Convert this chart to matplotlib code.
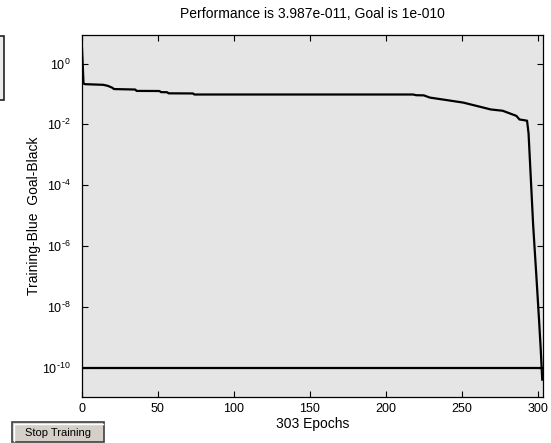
import matplotlib
matplotlib.use("Agg")
import matplotlib.pyplot as plt
from matplotlib.patches import Rectangle
from matplotlib.lines import Line2D
from matplotlib.ticker import NullLocator, FixedLocator

plt.rcParams['font.family'] = ['Liberation Sans', 'DejaVu Sans']
plt.rcParams['mathtext.default'] = 'regular'

# ---- data ----
epochs = [0, 1, 2, 14, 17, 20, 21, 35, 36, 51, 52, 56, 57, 73, 74, 218, 220, 225,
          229, 240, 251, 262, 269, 277, 286, 288, 293, 294, 295, 296, 297, 298,
          299, 300, 301, 302, 303]
performance = [3.2, 0.22, 0.21, 0.20, 0.185, 0.16, 0.145, 0.14, 0.126, 0.125, 0.115,
               0.114, 0.105, 0.104, 0.096, 0.096, 0.091, 0.09, 0.076, 0.063, 0.052,
               0.038, 0.031, 0.028, 0.019, 0.0145, 0.0132, 0.005, 5e-4, 5e-5, 5e-6,
               8e-7, 1.3e-7, 2e-8, 3e-9, 4e-10, 3.987e-11]
goal = 1e-10
total_epochs = 303
x_ticks = [0, 50, 100, 150, 200, 250, 300]
y_ticks = [1e0, 1e-2, 1e-4, 1e-6, 1e-8, 1e-10]
y_tick_labels = [r'$10^{0}$', r'$10^{\text{-}2}$', r'$10^{\text{-}4}$', r'$10^{\text{-}6}$',
                 r'$10^{\text{-}8}$', r'$10^{\text{-}10}$']
title = 'Performance is 3.987e-011, Goal is 1e-010'
xlabel = '303 Epochs'
ylabel = 'Training-Blue  Goal-Black'
button_text = 'Stop Training'

W, H = 551, 443
fig = plt.figure(figsize=(W / 100, H / 100), dpi=100)
ax = fig.add_axes([82 / W, 1 - 397 / H, 461 / W, 362 / H])
ax.set_facecolor('#e5e5e5')

ax.semilogy(epochs, performance, color='black', lw=1.6)
ax.plot([0, total_epochs], [goal, goal], color='black', lw=1.6)

ax.set_xlim(0, total_epochs + 0.5)
ax.set_ylim(10 ** -10.97, 10 ** 0.94)
ax.xaxis.set_major_locator(FixedLocator(x_ticks))
ax.yaxis.set_major_locator(FixedLocator(y_ticks))
ax.set_yticklabels(y_tick_labels)
ax.yaxis.set_minor_locator(NullLocator())
ax.tick_params(direction='in', length=4, width=0.8, labelsize=9, top=True, right=True,
               colors='black')
ax.tick_params(axis='x', pad=4)
ax.tick_params(axis='y', pad=8)
for s in ax.spines.values():
    s.set_linewidth(0.9)

ax.set_title(title, fontsize=10, pad=12)
ax.set_xlabel(xlabel, fontsize=10, labelpad=1.5)
ax.set_ylabel(ylabel, fontsize=10)
ax.yaxis.set_label_coords((41 - 82) / 461, 0.5)

# partial box at the left edge
fig.patches.append(Rectangle((-10 / W, 1 - 100 / H), 14 / W, 64 / H, transform=fig.transFigure,
                             facecolor='#ebebeb', edgecolor='#222222', lw=1.2))
# stop training button (3D look)
bx0, bx1, by0, by1 = 12, 104, 442, 422
fig.patches.append(Rectangle((bx0 / W, 1 - by0 / H), (bx1 - bx0) / W, (by0 - by1) / H,
                             transform=fig.transFigure, facecolor='#d4d0c8',
                             edgecolor='#404040', lw=1.2))
fig.lines.append(Line2D([(bx0 + 1.5) / W, (bx0 + 1.5) / W, (bx1 - 1.5) / W],
                        [1 - (by0 - 1.5) / H, 1 - (by1 + 1.5) / H, 1 - (by1 + 1.5) / H],
                        transform=fig.transFigure, color='white', lw=1))
fig.text((bx0 + bx1) / 2 / W, 1 - 432.5 / H, button_text, fontsize=8, ha='center', va='center')

fig.savefig('out.png', dpi=100)
